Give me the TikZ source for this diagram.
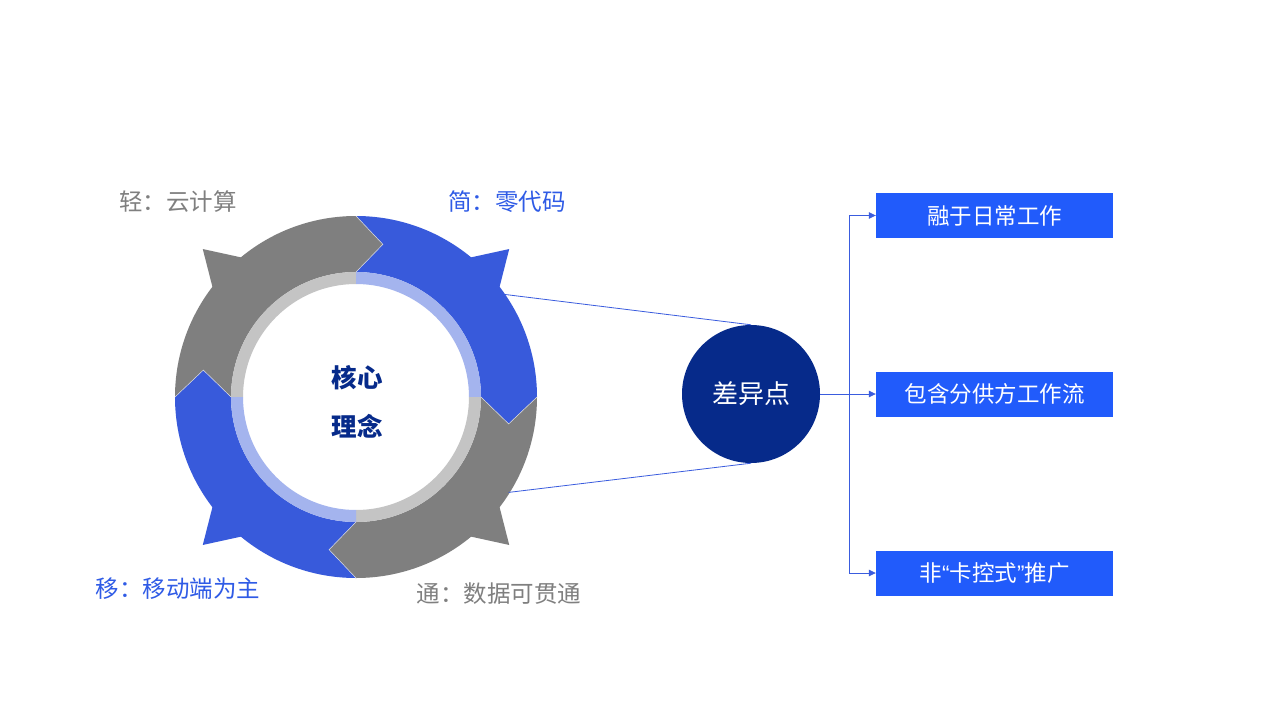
\documentclass[tikz,border=0pt]{standalone}
\usepackage{fontspec}
\setmainfont{Noto Sans CJK SC}
\newfontfamily\latinq{Liberation Sans}
\usetikzlibrary{arrows.meta,calc}
\definecolor{segblue}{HTML}{385ADB}
\definecolor{seggray}{HTML}{7F7F7F}
\definecolor{lgray}{HTML}{C4C4C4}
\definecolor{lblue}{HTML}{A4B4EE}
\definecolor{navy}{HTML}{062A8A}
\definecolor{boxblue}{HTML}{215BFB}
\definecolor{labblue}{HTML}{2F5BE6}
\definecolor{labgray}{HTML}{7F7F7F}
\definecolor{linkblue}{HTML}{3A5CDE}
\tikzset{
  lab/.style={font=\fontsize{23.5}{27}\selectfont, inner sep=0pt},
  coretext/.style={font=\fontsize{25.5}{29}\selectfont\bfseries, text=navy, inner sep=0pt},
  box/.style={fill=boxblue, minimum width=237pt, minimum height=45pt, inner sep=0pt, text=white, font=\fontsize{22.5}{26}\selectfont},
  conn/.style={draw=linkblue, line width=0.8pt},
  arr/.style={conn, -{Triangle[length=7pt,width=6.5pt]}},
}
\begin{document}
\begin{tikzpicture}[x=1pt,y=1pt]
\useasboundingbox (0,0) rectangle (1280,-720);
\fill[white] (0,0) rectangle (1280,-720);
\begin{scope}[shift={(356,-397)}]
  % outer spikes
  \foreach \t/\c in {136/seggray, 44/segblue, -44/seggray, -136/segblue} {
    \fill[\c] ({\t+7}:179pt) -- (\t:213pt) -- ({\t-7}:179pt) -- cycle;
  }
  % arrow segments
  \foreach \a/\c in {180/seggray, 90/segblue, 0/seggray, 270/segblue} {
    \fill[\c] (\a:181pt) arc[start angle=\a, end angle=\a-90, radius=181pt]
      -- ({\a-100}:155pt) -- ({\a-90}:125pt)
      arc[start angle=\a-90, end angle=\a, radius=125pt]
      -- ({\a-10}:155pt) -- cycle;
  }
  \foreach \a in {180, 90, 0, 270} {
    \draw[white!75!gray, line width=0.5pt] ({\a-90}:181pt) -- ({\a-100}:155pt) -- ({\a-90}:125pt);
  }
  % inner thin ring
  \foreach \a/\c in {90/lgray, 0/lblue, -90/lgray, 180/lblue} {
    \fill[\c] (\a:125pt) arc[start angle=\a, end angle=\a+90, radius=125pt]
      -- ({\a+90}:113pt) arc[start angle=\a+90, end angle=\a, radius=113pt] -- cycle;
  }
  \coordinate (ringTop) at (34.5:181pt);
  \coordinate (ringBot) at (-32:180pt);
\end{scope}

\node[coretext] (core1) at (357,-378) {核心};
\node[coretext] (core2) at (357,-426) {理念};

\node[lab, text=labgray] (l1) at (178,-202) {轻：云计算};
\node[lab, text=labblue] (l2) at (507,-202) {简：零代码};
\node[lab, text=labblue] (l3) at (178,-589) {移：移动端为主};
\node[lab, text=labgray] (l4) at (499,-594) {通：数据可贯通};

\node[circle, fill=navy, minimum size=138pt, inner sep=0pt, text=white,
      font=\fontsize{26}{30}\selectfont] (diff) at (751,-394) {差异点};

\draw[conn] (ringTop) -- (diff.north);
\draw[conn] (ringBot) -- (diff.south);

\node[box] (b1) at (994.5,-215.5) {融于日常工作};
\node[box] (b2) at (994.5,-394) {包含分供方工作流};
\node[box] (b3) at (994.5,-573) {非{\latinq “}卡控式{\latinq ”}推广};

\coordinate (split) at ($(diff.east)+(29,0)$);
\draw[arr] (diff.east) -- (b2.west);
\draw[arr] (split) |- (b1.west);
\draw[arr] (split) |- (b3.west);
\end{tikzpicture}
\end{document}
